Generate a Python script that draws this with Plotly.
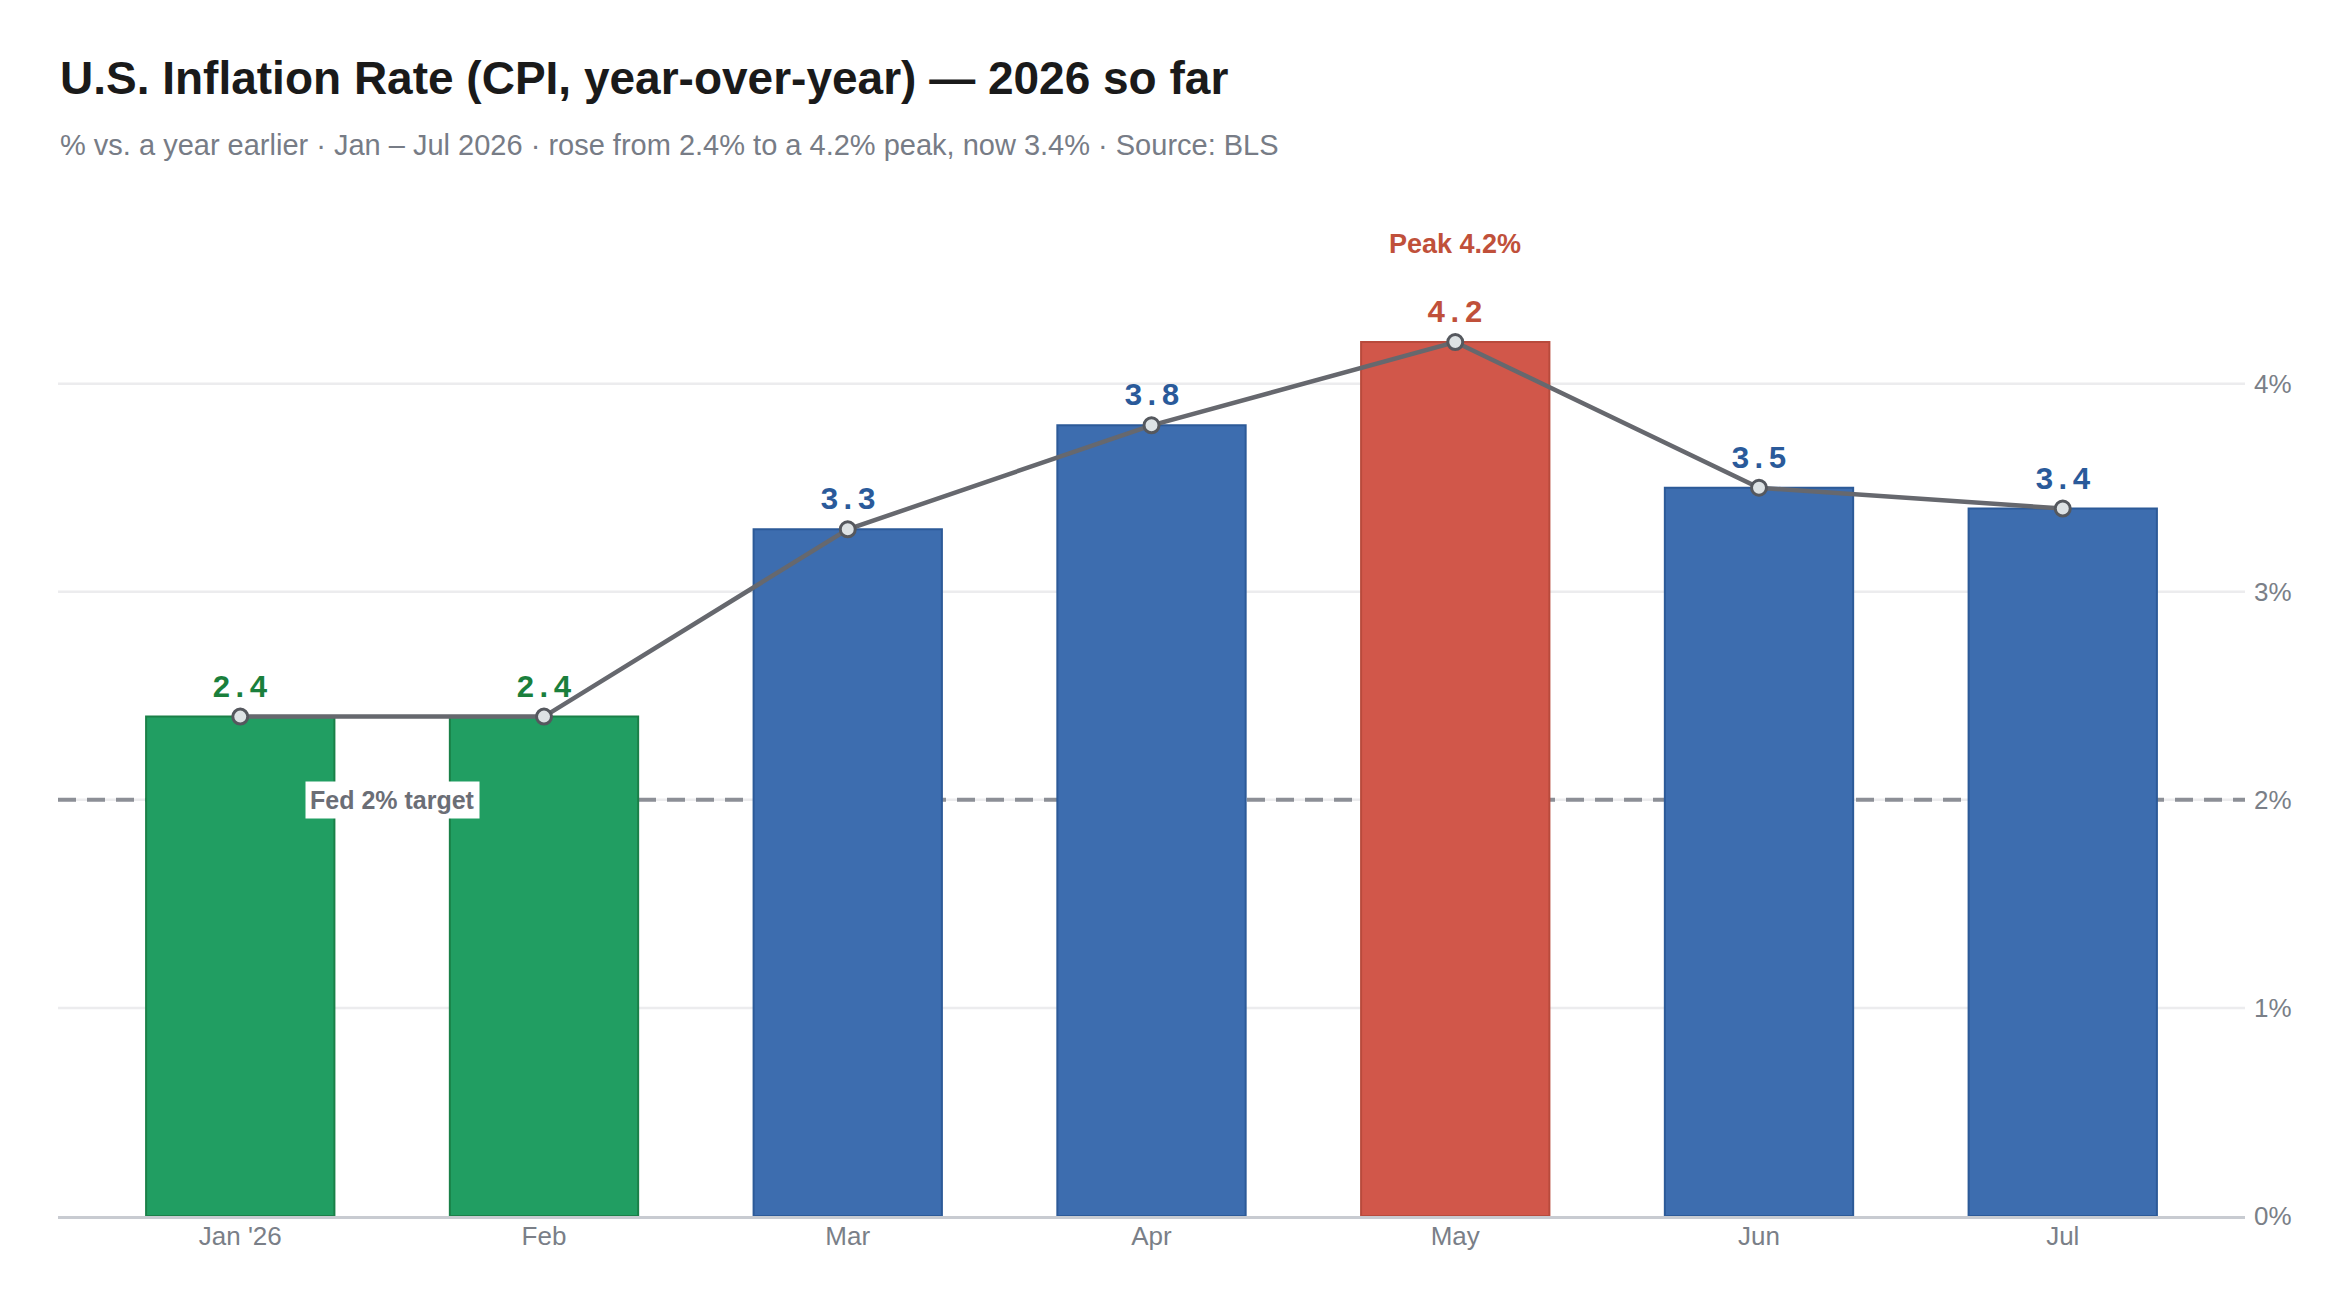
import plotly.graph_objects as go

months = ["Jan '26", "Feb", "Mar", "Apr", "May", "Jun", "Jul"]
cpi_yoy = [2.4, 2.4, 3.3, 3.8, 4.2, 3.5, 3.4]
fed_target = 2.0
y_ticks = [0, 1, 2, 3, 4]
y_tick_labels = ["0%", "1%", "2%", "3%", "4%"]

GREEN, GREEN_LINE, GREEN_TXT = "#219e62", "#1a8048", "#1a7f3c"
BLUE, BLUE_LINE, BLUE_TXT = "#3d6daf", "#2c5a98", "#2a5a9a"
RED, RED_LINE, RED_TXT = "#d1574a", "#b84a3c", "#c0503a"

peak_val = max(cpi_yoy)
peak_idx = cpi_yoy.index(peak_val)

def style_for(i, v):
    if v == peak_val:
        return RED, RED_LINE, RED_TXT
    if i < 2:
        return GREEN, GREEN_LINE, GREEN_TXT
    return BLUE, BLUE_LINE, BLUE_TXT

styles = [style_for(i, v) for i, v in enumerate(cpi_yoy)]
x = list(range(len(months)))

fig = go.Figure()
fig.add_trace(go.Bar(
    x=x, y=cpi_yoy, width=0.62,
    marker=dict(color=[s[0] for s in styles],
                line=dict(color=[s[1] for s in styles], width=2)),
    hoverinfo="skip", showlegend=False,
))
fig.add_trace(go.Scatter(
    x=x, y=cpi_yoy, mode="lines+markers",
    line=dict(color="#66686e", width=4.5),
    marker=dict(size=15, color="#dde2e4", line=dict(color="#55585e", width=3)),
    hoverinfo="skip", showlegend=False,
))

# gridlines drawn as shapes so the target line can sit on top of them
for t in y_ticks[1:]:
    fig.add_shape(type="line", xref="paper", x0=0, x1=1, yref="y", y0=t, y1=t,
                  line=dict(color="#ececee", width=2.5), layer="below")

# Fed target dashed line
fig.add_shape(type="line", xref="paper", x0=0, x1=1, yref="y", y0=fed_target, y1=fed_target,
              line=dict(color="#8c8f96", width=4, dash="18px,11px"), layer="below")

annotations = []
for i, v in enumerate(cpi_yoy):
    annotations.append(dict(
        x=i, y=v, xref="x", yref="y", text=f"{v:.1f}", showarrow=False,
        yanchor="bottom", yshift=9,
        font=dict(family="Liberation Mono, DejaVu Sans Mono, monospace", size=31,
                  color=styles[i][2], weight="bold"),
    ))
annotations.append(dict(
    x=peak_idx, y=peak_val, xref="x", yref="y", text=f"Peak {peak_val:.1f}%",
    showarrow=False, yanchor="middle", yshift=98,
    font=dict(family="Liberation Sans, Arial, sans-serif", size=27, color=RED_TXT, weight="bold"),
))
annotations.append(dict(
    x=0.5, y=fed_target, xref="x", yref="y", text="Fed 2% target", showarrow=False,
    yanchor="middle", bgcolor="white", borderpad=4,
    font=dict(family="Liberation Sans, Arial, sans-serif", size=25, color="#6b6e76", weight="bold"),
))
annotations.append(dict(
    x=0, y=1.0655, xref="paper", yref="paper", xanchor="left", yanchor="middle",
    text="% vs. a year earlier · Jan – Jul 2026 · rose from 2.4% to a 4.2% peak, now 3.4% · Source: BLS",
    showarrow=False,
    font=dict(family="Liberation Sans, Arial, sans-serif", size=29, color="#777c86"),
))

fig.update_layout(
    width=2350, height=1312,
    paper_bgcolor="white", plot_bgcolor="white",
    margin=dict(l=50, r=113, t=203, b=104),
    title=dict(text="<b>U.S. Inflation Rate (CPI, year-over-year) — 2026 so far</b>",
               x=52 / 2350, xanchor="left", y=1 - 70 / 1312, yanchor="middle",
               font=dict(family="Liberation Sans, Arial, sans-serif", size=46, color="#1a1a1a")),
    annotations=annotations,
    bargap=0.38,
    xaxis=dict(tickmode="array", tickvals=x, ticktext=months, range=[-0.6, 6.6],
               showgrid=False, zeroline=False, showline=True, linecolor="#c8cbd1", linewidth=3,
               ticks="", ticklabelstandoff=-5,
               tickfont=dict(family="Liberation Sans, Arial, sans-serif", size=26, color="#7a7f88")),
    yaxis=dict(side="right", range=[0, 4.83], tickmode="array", tickvals=y_ticks, ticktext=y_tick_labels,
               showgrid=False, zeroline=False, showline=False,
               ticks="", ticklabelstandoff=8,
               tickfont=dict(family="Liberation Sans, Arial, sans-serif", size=26, color="#7a7f88")),
)

fig.write_html("out.html")
